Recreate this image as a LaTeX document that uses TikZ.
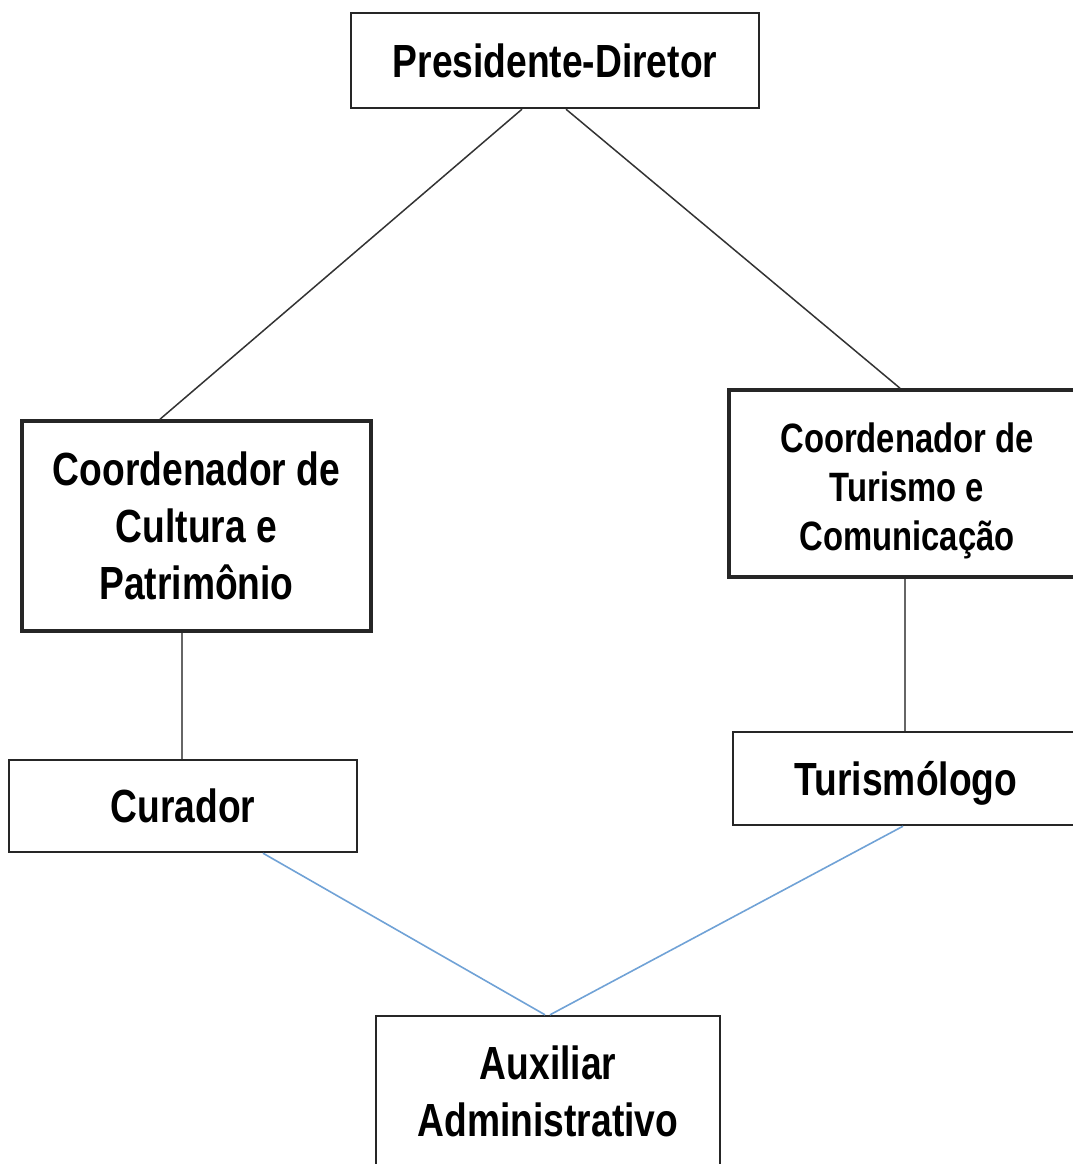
\documentclass[tikz,border=0pt]{standalone}
\usepackage{fontspec}
\setmainfont[FakeStretch=0.8]{Liberation Sans}
\usepackage{tikz}
\usetikzlibrary{calc}
\definecolor{azulclaro}{RGB}{112,162,214}
\newcommand{\baixar}[2]{\raisebox{-#1}[\height][\depth]{#2}}

\begin{document}
\begin{tikzpicture}[x=1pt,y=-1pt,
        caixa/.style={draw=black!85,line width=2.4pt,align=center,inner sep=0pt,font=\bfseries\fontsize{46.5}{57}\selectfont},
        grossa/.style={caixa,line width=3.6pt},
        ligacao/.style={draw=black!80,line width=1.5pt},
        vertical/.style={draw=black!60,line width=1.2pt},
        azul/.style={draw=azulclaro,line width=1.6pt}]
            \useasboundingbox (0,0) rectangle (1073,1164);
            % caixas
            \node[caixa,minimum width=408pt,minimum height=95pt] (pres) at (555,60.5) {Presidente-Diretor};
            \node[grossa,minimum width=349pt,minimum height=210pt] (cult) at (196.5,526) {Coordenador de\\Cultura e\\Patrimônio};
            \node[grossa,minimum width=356pt,minimum height=187pt,font=\bfseries\fontsize{41}{49}\selectfont] (tur) at (907,483.5)
                {\baixar{8pt}{\begin{tabular}{@{}c@{}}Coordenador de\\Turismo e\\Comunicação\end{tabular}}};
            \node[caixa,minimum width=348pt,minimum height=92pt] (cur) at (183,806) {Curador};
            \node[caixa,minimum width=346pt,minimum height=93pt] (turis) at (906,778.5) {\baixar{5pt}{Turismólogo}};
            \node[caixa,minimum width=344pt,minimum height=150pt] (aux) at (548,1091) {Auxiliar\\Administrativo};

            % ligacoes
            \draw[ligacao] ([xshift=-33pt]pres.south) -- ([xshift=-36.5pt]cult.north);
            \draw[ligacao] ([xshift=11pt]pres.south) -- ([xshift=-7pt]tur.north);
            \draw[vertical] ([xshift=-14.5pt]cult.south) -- ([xshift=-1pt]cur.north);
            \draw[vertical] ([xshift=-2pt]tur.south) -- ([xshift=-1pt]turis.north);
            \draw[azul] ([xshift=80pt]cur.south) -- ([xshift=-3pt]aux.north);
            \draw[azul] ([xshift=-3pt]turis.south) -- ([xshift=2pt]aux.north);
\end{tikzpicture}
\end{document}
